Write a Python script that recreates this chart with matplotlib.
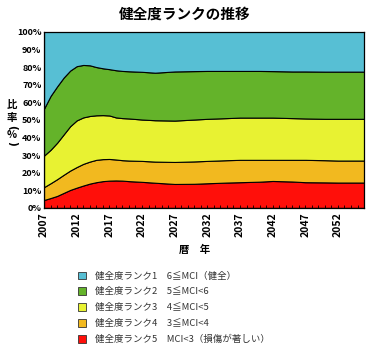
import matplotlib
matplotlib.use("Agg")
import matplotlib.pyplot as plt
from matplotlib.patches import Patch
from matplotlib.ticker import MultipleLocator, FuncFormatter

plt.rcParams['font.family'] = ['Noto Sans CJK JP', 'DejaVu Sans']

years = [2007, 2008, 2009, 2010, 2011, 2012, 2013, 2014, 2015, 2016,
         2017, 2018, 2019, 2020, 2022, 2024, 2027, 2030, 2032, 2035,
         2037, 2040, 2042, 2045, 2047, 2050, 2052, 2054, 2056]

# share of each rank (%), rank5 at the bottom
rank5 = [4.5, 5.6, 6.8, 8.5, 10.2, 11.5, 12.7, 13.8, 14.6, 15.2,
         15.5, 15.6, 15.5, 15.2, 14.8, 14.3, 13.6, 13.7, 14.0, 14.4,
         14.6, 14.9, 15.3, 15.0, 14.6, 14.5, 14.4, 14.4, 14.4]
rank4 = [7.3, 8.4, 9.5, 10.3, 11.0, 11.7, 12.3, 12.5, 12.7, 12.5,
         12.3, 11.9, 11.6, 11.7, 11.9, 12.0, 12.5, 12.7, 12.7, 12.7,
         12.7, 12.4, 12.0, 12.3, 12.7, 12.6, 12.5, 12.5, 12.5]
rank3 = [17.9, 19.0, 20.7, 22.9, 25.2, 26.5, 26.4, 25.9, 25.3, 25.0,
         24.7, 23.9, 23.9, 23.9, 23.5, 23.5, 23.5, 23.8, 23.9, 23.9,
         24.0, 24.0, 24.0, 23.7, 23.5, 23.5, 23.7, 23.7, 23.7]
rank2 = [26.7, 30.6, 32.0, 32.3, 31.6, 30.8, 29.8, 28.8, 27.4, 26.6,
         26.3, 26.8, 26.8, 26.8, 27.1, 27.0, 27.9, 27.5, 27.2, 26.8,
         26.5, 26.5, 26.4, 26.5, 26.7, 26.8, 26.8, 26.8, 26.8]
rank1 = [43.6, 36.4, 31.0, 26.0, 22.0, 19.5, 18.8, 19.0, 20.0, 20.7,
         21.2, 21.8, 22.2, 22.4, 22.7, 23.2, 22.5, 22.3, 22.2, 22.2,
         22.2, 22.2, 22.3, 22.5, 22.5, 22.6, 22.6, 22.6, 22.6]

labels = ['健全度ランク1　6≦MCI（健全）',
          '健全度ランク2　5≦MCI<6',
          '健全度ランク3　4≦MCI<5',
          '健全度ランク4　3≦MCI<4',
          '健全度ランク5　MCI<3（損傷が著しい）']
colors = ['#57BFD4', '#64B32A', '#E8F232', '#F2B91F', '#FF0F0A']

fig = plt.figure(figsize=(3.7, 3.5), dpi=100)
ax = fig.add_axes([0.119, 0.406, 0.865, 0.503])

ax.stackplot(years, rank5, rank4, rank3, rank2, rank1,
             colors=colors[::-1], edgecolor='black', linewidth=0.8)

ax.set_xlim(2007, 2056)
ax.set_ylim(0, 100)
ax.set_xticks(range(2007, 2056, 5))
ax.xaxis.set_minor_locator(MultipleLocator(1))
ax.yaxis.set_major_locator(MultipleLocator(10))
ax.yaxis.set_major_formatter(FuncFormatter(lambda v, p: f'{int(v)}%'))
ax.tick_params(axis='x', which='both', direction='in', length=2, width=0.6,
               labelsize=7.5, rotation=90, pad=3)
ax.tick_params(axis='y', length=0, labelsize=6.5, pad=2)
for t in ax.get_xticklabels() + ax.get_yticklabels():
    t.set_fontweight('bold')
for s in ax.spines.values():
    s.set_linewidth(0.9)

fig.text(0.5, 0.962, '健全度ランクの推移', ha='center', va='center',
         fontsize=10.5, fontweight='bold')
fig.text(0.525, 0.285, '暦　年', ha='center', va='center',
         fontsize=7.5, fontweight='bold')

# vertical y label: 比 率 ( % )
ylab = [('比', 0, 0.700), ('率', 0, 0.663), ('(', -90, 0.635),
        ('%', 0, 0.614), (')', -90, 0.590)]
for ch, rot, yy in ylab:
    fig.text(0.032, yy, ch, ha='center', va='center', rotation=rot,
             fontsize=7.5, fontweight='bold', family='DejaVu Sans' if rot else None)

handles = [Patch(facecolor=c, edgecolor='#333333', linewidth=0.6) for c in colors]
fig.legend(handles, labels, loc='upper left', bbox_to_anchor=(0.2, 0.235),
           frameon=False, fontsize=6.8, handlelength=0.9, handleheight=0.9,
           handletextpad=0.9, labelspacing=0.7, borderaxespad=0,
           labelcolor='#333333')

fig.savefig('out.png', dpi=100)
